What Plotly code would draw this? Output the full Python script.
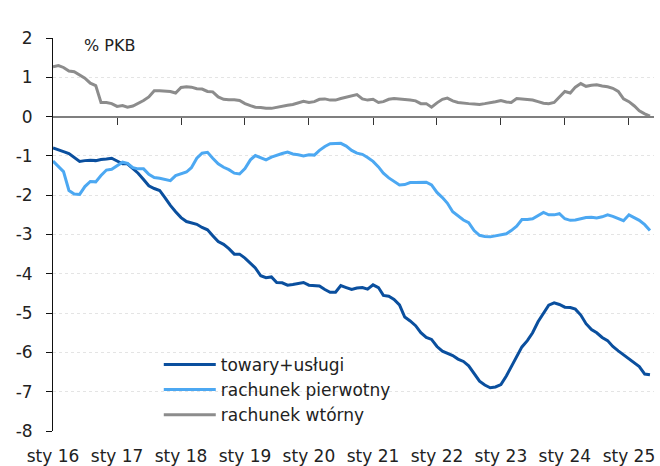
import plotly.graph_objects as go
import pandas as pd

months = pd.date_range("2016-01-01", periods=113, freq="MS").strftime("%Y-%m-%d").tolist()

towary_uslugi = [
    -0.80, -0.84, -0.89, -0.94, -1.04, -1.14, -1.12, -1.11, -1.12, -1.09, -1.08, -1.06,
    -1.13, -1.20, -1.20, -1.33, -1.44, -1.60, -1.76, -1.83, -1.88, -2.06, -2.26, -2.42,
    -2.57, -2.67, -2.70, -2.74, -2.82, -2.88, -3.03, -3.18, -3.25, -3.36, -3.50, -3.50,
    -3.60, -3.74, -3.85, -4.05, -4.10, -4.08, -4.22, -4.23, -4.29, -4.27, -4.24, -4.22,
    -4.29, -4.31, -4.31, -4.40, -4.47, -4.47, -4.30, -4.35, -4.40, -4.36, -4.35, -4.39,
    -4.28, -4.35, -4.55, -4.57, -4.65, -4.79, -5.10, -5.20, -5.32, -5.50, -5.62, -5.67,
    -5.85, -5.97, -6.02, -6.08, -6.17, -6.23, -6.34, -6.55, -6.73, -6.83, -6.90, -6.88,
    -6.82, -6.60, -6.36, -6.10, -5.86, -5.70, -5.50, -5.22, -5.00, -4.80, -4.74, -4.78,
    -4.85, -4.86, -4.90, -5.05, -5.27, -5.42, -5.50, -5.62, -5.70, -5.85, -5.96, -6.06,
    -6.15, -6.26, -6.36, -6.55, -6.57,
]

rachunek_pierwotny = [
    -1.13, -1.28, -1.40, -1.88, -1.97, -1.98, -1.78, -1.65, -1.66, -1.50, -1.36, -1.34,
    -1.25, -1.16, -1.19, -1.30, -1.33, -1.33, -1.47, -1.55, -1.57, -1.60, -1.63, -1.50,
    -1.46, -1.41, -1.30, -1.06, -0.93, -0.91, -1.06, -1.20, -1.29, -1.35, -1.44, -1.46,
    -1.32, -1.10, -0.99, -1.05, -1.10, -1.03, -0.98, -0.94, -0.90, -0.95, -0.97, -1.00,
    -0.97, -0.98, -0.86, -0.76, -0.69, -0.68, -0.68, -0.75, -0.86, -0.93, -0.96, -1.04,
    -1.14, -1.28, -1.44, -1.56, -1.66, -1.74, -1.73, -1.68, -1.68, -1.67, -1.67, -1.74,
    -1.93, -2.06, -2.20, -2.42, -2.52, -2.63, -2.70, -2.90, -3.02, -3.05, -3.06, -3.04,
    -3.00, -2.98, -2.90, -2.79, -2.62, -2.62, -2.60, -2.52, -2.44, -2.50, -2.50, -2.47,
    -2.60, -2.64, -2.63, -2.60, -2.57, -2.56, -2.58, -2.55, -2.50, -2.54, -2.60, -2.65,
    -2.50, -2.57, -2.64, -2.75, -2.90,
]

rachunek_wtorny = [
    1.27, 1.30, 1.25, 1.16, 1.14, 1.06, 0.98, 0.85, 0.79, 0.36, 0.36, 0.33,
    0.26, 0.28, 0.24, 0.27, 0.33, 0.41, 0.50, 0.66, 0.66, 0.65, 0.64, 0.60,
    0.74, 0.76, 0.75, 0.71, 0.70, 0.64, 0.63, 0.50, 0.44, 0.43, 0.43, 0.41,
    0.33, 0.28, 0.24, 0.23, 0.21, 0.21, 0.24, 0.27, 0.29, 0.31, 0.35, 0.39,
    0.36, 0.38, 0.44, 0.45, 0.42, 0.42, 0.46, 0.49, 0.52, 0.56, 0.45, 0.42,
    0.44, 0.36, 0.38, 0.44, 0.46, 0.45, 0.43, 0.42, 0.40, 0.33, 0.33, 0.24,
    0.35, 0.44, 0.47, 0.40, 0.36, 0.34, 0.33, 0.32, 0.31, 0.33, 0.35, 0.38,
    0.41, 0.37, 0.36, 0.46, 0.45, 0.44, 0.42, 0.38, 0.34, 0.33, 0.36, 0.50,
    0.64, 0.60, 0.75, 0.84, 0.77, 0.80, 0.81, 0.78, 0.76, 0.72, 0.64, 0.45,
    0.38, 0.27, 0.15, 0.07, 0.01,
]

series_names = ["towary+usługi", "rachunek pierwotny", "rachunek wtórny"]
series_colors = ["#0A4F9E", "#4CA8F2", "#8C8C8C"]

year_ticks = [f"{y}-01-01" for y in range(2016, 2026)]
year_labels = [f"sty {str(y)[2:]}" for y in range(2016, 2026)]
y_ticks = list(range(-8, 3))
y_labels = [str(v) for v in y_ticks]

FONT = "DejaVu Sans"
TXT = "#222222"

fig = go.Figure()
for name, vals, col, xa in zip(series_names,
                               [towary_uslugi, rachunek_pierwotny, rachunek_wtorny],
                               series_colors, ["x", "x", "x2"]):
    fig.add_trace(go.Scatter(x=months, y=vals, name=name, mode="lines",
                             line=dict(color=col, width=3), xaxis=xa, yaxis="y"))

x_range = ["2016-01-01", "2025-05-24"]

fig.update_layout(
    width=660, height=466,
    margin=dict(l=53, r=6, t=38, b=35),
    paper_bgcolor="white", plot_bgcolor="white",
    font=dict(family=FONT, size=17, color=TXT),
    showlegend=True,
    legend=dict(x=0.176, y=0.214, xanchor="left", yanchor="top",
                bgcolor="rgba(0,0,0,0)", borderwidth=0,
                font=dict(family=FONT, size=17, color=TXT),
                itemwidth=52, tracegroupgap=0),
    xaxis=dict(type="date", range=x_range, tickvals=year_ticks, ticktext=year_labels,
               showgrid=False, zeroline=False, showline=False, automargin=False,
               ticks="outside", ticklen=10, tickcolor="rgba(0,0,0,0)",
               tickfont=dict(family=FONT, size=17, color=TXT)),
    xaxis2=dict(type="date", overlaying="x", matches="x", anchor="free", position=0.8,
                range=x_range, tickvals=year_ticks[1:], showticklabels=False,
                showgrid=False, zeroline=False, showline=True, automargin=False,
                linecolor="#7F7F7F", linewidth=2,
                ticks="outside", ticklen=7, tickcolor="#333333", tickwidth=1),
    yaxis=dict(range=[-8, 2], tickvals=y_ticks, ticktext=y_labels,
               showgrid=True, gridcolor="#E4E4E4", griddash="dot", gridwidth=1,
               zeroline=False, showline=True, linecolor="#111111", linewidth=1,
               ticks="outside", ticklen=6, tickcolor="#111111", automargin=False,
               ticklabelstandoff=10,
               tickfont=dict(family=FONT, size=17, color=TXT)),
    annotations=[dict(text="% PKB", xref="paper", yref="paper", x=0.048, y=0.982,
                      xanchor="left", yanchor="middle", showarrow=False,
                      font=dict(family=FONT, size=16, color=TXT))],
)

fig.write_html("out.html", config={"displayModeBar": False},
               post_script="document.body.style.margin='0';document.body.style.overflow='hidden';")
